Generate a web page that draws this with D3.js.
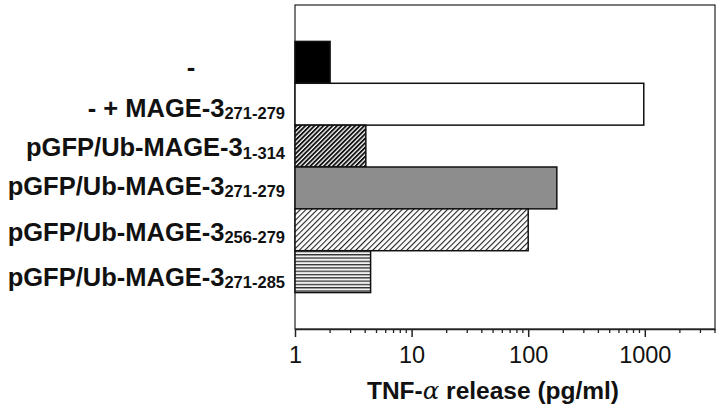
<!DOCTYPE html>
<html><head><meta charset="utf-8">
<script src="https://cdn.jsdelivr.net/npm/d3@7"></script>
<style>body{margin:0;background:#fff}svg{display:block}</style>
</head><body>
<svg id="c" width="720" height="415"></svg>
<script>
const labels = [
  {main:"-", sub:""},
  {main:"- + MAGE-3", sub:"271-279"},
  {main:"pGFP/Ub-MAGE-3", sub:"1-314"},
  {main:"pGFP/Ub-MAGE-3", sub:"271-279"},
  {main:"pGFP/Ub-MAGE-3", sub:"256-279"},
  {main:"pGFP/Ub-MAGE-3", sub:"271-285"}
];
const values = [2, 980, 4.05, 176, 100, 4.45];
const fills = ["black", "white", "url(#hatchDense)", "#8d8d8d", "url(#hatchLight)", "url(#hlines)"];
const tickValues = [1, 10, 100, 1000];
// label baseline offsets from band centre (layout)
const labelDy = [13.5, 12.7, 10, 7, 11, 14];

const svg = d3.select("#c");
const L = 295, R = 715, T = 5, B = 329;
const FONT = "Liberation Sans, Arial, Helvetica, sans-serif";
const x = d3.scaleLog().domain([1, 4000]).range([L, R]);
const y = d3.scaleBand().domain(d3.range(labels.length)).range([T, B]).paddingInner(0).paddingOuter(0.87);

const defs = svg.append("defs");
const p1 = defs.append("pattern").attr("id","hatchDense").attr("patternUnits","userSpaceOnUse")
  .attr("width",3.2).attr("height",3.2).attr("patternTransform","rotate(45)");
p1.append("rect").attr("width",3.2).attr("height",3.2).attr("fill","white");
p1.append("rect").attr("width",1.9).attr("height",3.2).attr("fill","#111");
const p2 = defs.append("pattern").attr("id","hatchLight").attr("patternUnits","userSpaceOnUse")
  .attr("width",4).attr("height",4).attr("patternTransform","rotate(45)");
p2.append("rect").attr("width",4).attr("height",4).attr("fill","white");
p2.append("rect").attr("width",1.1).attr("height",4).attr("fill","#222");
const p3 = defs.append("pattern").attr("id","hlines").attr("patternUnits","userSpaceOnUse")
  .attr("width",4).attr("height",3.3);
p3.append("rect").attr("width",4).attr("height",3.3).attr("fill","#f2f2f2");
p3.append("rect").attr("y",0).attr("width",4).attr("height",1.3).attr("fill","#333");

// frame
svg.append("rect").attr("x",L).attr("y",T).attr("width",R-L).attr("height",B-T)
  .attr("fill","none").attr("stroke","#222").attr("stroke-width",1.2);

// bars
svg.append("g").selectAll("rect").data(values).join("rect")
  .attr("x", x(1))
  .attr("y", (d,i)=>y(i))
  .attr("width", d=>x(d)-x(1))
  .attr("height", y.bandwidth())
  .attr("fill", (d,i)=>fills[i])
  .attr("stroke","#111").attr("stroke-width",1.5);

// axis
const minor = [];
for (let dec=1; dec<=1000; dec*=10) for (let k=2;k<=9;k++){ const v=dec*k; if (v<=4000) minor.push(v); }
const ax = svg.append("g").attr("transform",`translate(0,${B})`);
ax.call(d3.axisBottom(x).tickValues(tickValues).tickSize(8).tickSizeOuter(0).tickFormat(d3.format("d")));
ax.select(".domain").attr("stroke","#222").attr("stroke-width",1.5);
ax.selectAll(".tick line").attr("stroke","#222").attr("stroke-width",1.5);
ax.selectAll(".tick text").attr("font-family",FONT).attr("font-size",23.5).attr("fill","#111")
  .attr("y",34).attr("dy",0);
svg.append("g").selectAll("line").data(minor).join("line")
  .attr("x1",d=>x(d)).attr("x2",d=>x(d)).attr("y1",B).attr("y2",B+4)
  .attr("stroke","#222").attr("stroke-width",1.3);

// category labels
const lg = svg.append("g").attr("font-family",FONT).attr("font-weight","bold").attr("fill","#111");
labels.forEach((l,i)=>{
  const t = lg.append("text").attr("x",285).attr("y",y(i)+y.bandwidth()/2+labelDy[i]).attr("text-anchor","end").attr("font-size",25.5);
  t.append("tspan").text(l.main);
  if (l.sub) t.append("tspan").attr("font-size",16.5).attr("dy",2.5).text(l.sub);
});
// the lone "-" label sits further left
lg.select("text").attr("text-anchor","middle").attr("x",191);

// axis title
const title = svg.append("text").attr("x",493).attr("y",399).attr("text-anchor","middle")
  .attr("font-family",FONT).attr("font-weight","bold").attr("font-size",24.5).attr("fill","#111");
title.append("tspan").text("TNF-");
title.append("tspan").attr("font-weight","normal").attr("font-family","DejaVu Serif, serif").attr("font-style","italic").text("α");
title.append("tspan").text(" release (pg/ml)");
</script>
</body></html>
